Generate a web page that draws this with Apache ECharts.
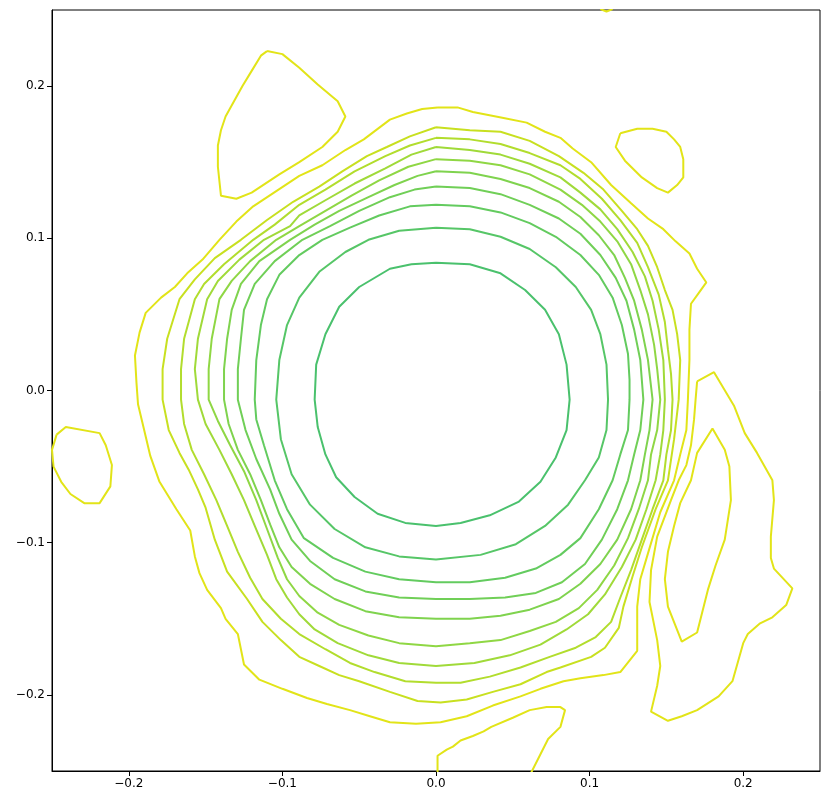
<!DOCTYPE html>
<html>
<head>
<meta charset="utf-8">
<script src="https://cdn.jsdelivr.net/npm/echarts@6/dist/echarts.min.js"></script>
<style>
  html, body { margin: 0; padding: 0; background: #fff; }
  #chart { width: 830px; height: 805px; }
</style>
</head>
<body>
<div id="chart"></div>
<script>
// tick values on both axes
const tickValues = [-0.2, -0.1, 0, 0.1, 0.2]

// contour levels, innermost (c1) to outermost (c10), [x, y] points
const c1 = [[0, 0.084], [0.022, 0.083], [0.042, 0.077], [0.058, 0.066], [0.071, 0.053], [0.080, 0.037], [0.085, 0.017], [0.087, -0.006], [0.085, -0.026], [0.078, -0.044], [0.068, -0.060], [0.054, -0.073], [0.035, -0.082], [0.016, -0.087], [0, -0.089], [-0.020, -0.087], [-0.038, -0.081], [-0.053, -0.070], [-0.065, -0.057], [-0.072, -0.042], [-0.077, -0.024], [-0.079, -0.006], [-0.078, 0.017], [-0.072, 0.037], [-0.063, 0.055], [-0.050, 0.068], [-0.030, 0.080], [-0.016, 0.083]]
const c2 = [[0, 0.107], [0.022, 0.106], [0.042, 0.101], [0.061, 0.093], [0.078, 0.081], [0.091, 0.068], [0.101, 0.053], [0.107, 0.037], [0.111, 0.017], [0.112, -0.006], [0.111, -0.026], [0.106, -0.044], [0.097, -0.059], [0.086, -0.075], [0.071, -0.089], [0.052, -0.101], [0.029, -0.108], [0, -0.111], [-0.024, -0.109], [-0.046, -0.103], [-0.066, -0.091], [-0.082, -0.075], [-0.094, -0.055], [-0.101, -0.032], [-0.104, -0.006], [-0.102, 0.020], [-0.097, 0.043], [-0.089, 0.061], [-0.076, 0.078], [-0.059, 0.091], [-0.044, 0.099], [-0.024, 0.105]]
const c3 = [[0, 0.122], [0.022, 0.121], [0.042, 0.117], [0.061, 0.110], [0.078, 0.101], [0.094, 0.089], [0.106, 0.076], [0.115, 0.061], [0.121, 0.043], [0.125, 0.024], [0.126, 0.007], [0.126, -0.006], [0.125, -0.026], [0.120, -0.042], [0.115, -0.059], [0.106, -0.078], [0.094, -0.097], [0.081, -0.108], [0.065, -0.117], [0.045, -0.123], [0.022, -0.126], [0, -0.126], [-0.024, -0.124], [-0.046, -0.119], [-0.067, -0.110], [-0.086, -0.097], [-0.097, -0.078], [-0.105, -0.059], [-0.112, -0.036], [-0.117, -0.019], [-0.118, -0.006], [-0.117, 0.020], [-0.114, 0.043], [-0.110, 0.060], [-0.102, 0.076], [-0.089, 0.089], [-0.074, 0.099], [-0.056, 0.107], [-0.037, 0.115], [-0.017, 0.121]]
const c4 = [[0, 0.134], [0.022, 0.133], [0.042, 0.129], [0.061, 0.122], [0.080, 0.113], [0.094, 0.103], [0.107, 0.089], [0.117, 0.074], [0.124, 0.059], [0.129, 0.040], [0.133, 0.020], [0.135, -0.006], [0.133, -0.026], [0.129, -0.042], [0.125, -0.059], [0.118, -0.078], [0.108, -0.098], [0.097, -0.114], [0.082, -0.126], [0.065, -0.133], [0.045, -0.136], [0.022, -0.137], [0, -0.137], [-0.024, -0.136], [-0.046, -0.132], [-0.066, -0.124], [-0.082, -0.112], [-0.094, -0.098], [-0.102, -0.081], [-0.108, -0.065], [-0.117, -0.045], [-0.124, -0.026], [-0.129, -0.006], [-0.129, 0.014], [-0.127, 0.034], [-0.125, 0.053], [-0.118, 0.070], [-0.105, 0.085], [-0.087, 0.099], [-0.069, 0.108], [-0.050, 0.118], [-0.030, 0.127], [-0.014, 0.132]]
const c5 = [[0, 0.144], [0.022, 0.143], [0.042, 0.139], [0.061, 0.133], [0.080, 0.124], [0.094, 0.114], [0.106, 0.102], [0.116, 0.089], [0.123, 0.074], [0.129, 0.059], [0.134, 0.040], [0.138, 0.020], [0.141, -0.006], [0.139, -0.026], [0.136, -0.042], [0.133, -0.059], [0.127, -0.078], [0.118, -0.098], [0.107, -0.114], [0.094, -0.127], [0.080, -0.137], [0.061, -0.144], [0.042, -0.148], [0.022, -0.150], [0, -0.150], [-0.024, -0.149], [-0.046, -0.145], [-0.066, -0.137], [-0.082, -0.127], [-0.094, -0.116], [-0.102, -0.103], [-0.108, -0.088], [-0.114, -0.072], [-0.121, -0.055], [-0.129, -0.039], [-0.135, -0.022], [-0.138, -0.006], [-0.138, 0.014], [-0.136, 0.034], [-0.133, 0.053], [-0.127, 0.070], [-0.115, 0.085], [-0.095, 0.099], [-0.079, 0.109], [-0.063, 0.118], [-0.044, 0.127], [-0.027, 0.135], [-0.012, 0.141]]
const c6 = [[0, 0.152], [0.022, 0.151], [0.042, 0.148], [0.061, 0.142], [0.081, 0.132], [0.095, 0.122], [0.107, 0.111], [0.118, 0.098], [0.127, 0.083], [0.133, 0.066], [0.138, 0.050], [0.142, 0.030], [0.144, 0.014], [0.146, -0.006], [0.144, -0.026], [0.140, -0.042], [0.138, -0.059], [0.132, -0.078], [0.125, -0.097], [0.116, -0.115], [0.105, -0.131], [0.093, -0.143], [0.078, -0.152], [0.061, -0.158], [0.042, -0.164], [0.022, -0.166], [0, -0.168], [-0.024, -0.166], [-0.044, -0.161], [-0.063, -0.154], [-0.077, -0.146], [-0.089, -0.135], [-0.097, -0.124], [-0.103, -0.110], [-0.110, -0.091], [-0.117, -0.072], [-0.125, -0.053], [-0.134, -0.036], [-0.142, -0.020], [-0.148, -0.006], [-0.148, 0.014], [-0.146, 0.034], [-0.141, 0.060], [-0.133, 0.072], [-0.121, 0.085], [-0.104, 0.099], [-0.089, 0.108], [-0.072, 0.118], [-0.055, 0.128], [-0.037, 0.138], [-0.018, 0.147]]
const c7 = [[0, 0.160], [0.022, 0.158], [0.042, 0.155], [0.061, 0.149], [0.081, 0.140], [0.094, 0.130], [0.107, 0.119], [0.118, 0.106], [0.128, 0.091], [0.136, 0.075], [0.141, 0.059], [0.145, 0.040], [0.148, 0.020], [0.149, -0.006], [0.148, -0.026], [0.146, -0.042], [0.143, -0.059], [0.137, -0.078], [0.130, -0.098], [0.121, -0.116], [0.110, -0.134], [0.099, -0.147], [0.085, -0.157], [0.068, -0.167], [0.048, -0.174], [0.025, -0.179], [0, -0.181], [-0.024, -0.179], [-0.044, -0.174], [-0.064, -0.166], [-0.079, -0.157], [-0.089, -0.147], [-0.097, -0.136], [-0.104, -0.124], [-0.110, -0.108], [-0.118, -0.089], [-0.125, -0.072], [-0.133, -0.055], [-0.141, -0.039], [-0.150, -0.022], [-0.155, -0.006], [-0.157, 0.014], [-0.155, 0.034], [-0.149, 0.060], [-0.142, 0.072], [-0.128, 0.086], [-0.112, 0.099], [-0.095, 0.108], [-0.089, 0.115], [-0.072, 0.125], [-0.053, 0.136], [-0.033, 0.146], [-0.016, 0.155]]
const c8 = [[0, 0.166], [0.022, 0.165], [0.042, 0.162], [0.061, 0.156], [0.081, 0.148], [0.094, 0.139], [0.108, 0.126], [0.120, 0.112], [0.131, 0.097], [0.138, 0.081], [0.145, 0.063], [0.149, 0.045], [0.151, 0.027], [0.153, 0.011], [0.154, -0.006], [0.153, -0.026], [0.150, -0.042], [0.148, -0.059], [0.141, -0.078], [0.134, -0.098], [0.127, -0.118], [0.120, -0.136], [0.114, -0.152], [0.104, -0.162], [0.091, -0.169], [0.074, -0.175], [0.055, -0.182], [0.035, -0.188], [0.016, -0.192], [0, -0.192], [-0.020, -0.191], [-0.040, -0.185], [-0.056, -0.179], [-0.072, -0.170], [-0.089, -0.160], [-0.101, -0.150], [-0.113, -0.137], [-0.121, -0.123], [-0.129, -0.106], [-0.136, -0.089], [-0.143, -0.072], [-0.151, -0.055], [-0.159, -0.039], [-0.164, -0.022], [-0.166, -0.006], [-0.166, 0.014], [-0.164, 0.034], [-0.157, 0.060], [-0.151, 0.070], [-0.138, 0.083], [-0.119, 0.099], [-0.105, 0.109], [-0.089, 0.122], [-0.072, 0.132], [-0.053, 0.144], [-0.033, 0.154], [-0.017, 0.161]]
const c9 = [[0, 0.173], [0.022, 0.171], [0.042, 0.170], [0.061, 0.164], [0.080, 0.154], [0.096, 0.143], [0.109, 0.132], [0.121, 0.118], [0.131, 0.106], [0.138, 0.095], [0.144, 0.081], [0.149, 0.066], [0.154, 0.053], [0.157, 0.037], [0.159, 0.020], [0.158, -0.006], [0.155, -0.032], [0.151, -0.059], [0.143, -0.078], [0.134, -0.103], [0.128, -0.122], [0.122, -0.142], [0.119, -0.156], [0.110, -0.169], [0.101, -0.175], [0.081, -0.182], [0.072, -0.185], [0.055, -0.193], [0.037, -0.198], [0.020, -0.203], [0.003, -0.205], [-0.012, -0.204], [-0.030, -0.198], [-0.050, -0.191], [-0.063, -0.187], [-0.076, -0.181], [-0.089, -0.175], [-0.101, -0.164], [-0.113, -0.152], [-0.123, -0.137], [-0.136, -0.119], [-0.144, -0.098], [-0.150, -0.077], [-0.155, -0.065], [-0.161, -0.052], [-0.167, -0.041], [-0.174, -0.026], [-0.178, -0.006], [-0.178, 0.014], [-0.175, 0.034], [-0.167, 0.060], [-0.157, 0.073], [-0.144, 0.087], [-0.127, 0.099], [-0.110, 0.112], [-0.093, 0.124], [-0.076, 0.134], [-0.061, 0.144], [-0.045, 0.154], [-0.032, 0.160], [-0.017, 0.167]]
const c10 = [[0.001, 0.186], [0.014, 0.186], [0.024, 0.183], [0.034, 0.181], [0.044, 0.179], [0.059, 0.176], [0.071, 0.170], [0.081, 0.166], [0.089, 0.159], [0.101, 0.150], [0.114, 0.135], [0.127, 0.123], [0.138, 0.113], [0.148, 0.106], [0.156, 0.098], [0.165, 0.090], [0.170, 0.080], [0.176, 0.071], [0.171, 0.064], [0.166, 0.057], [0.165, 0.040], [0.165, 0.020], [0.164, -0.006], [0.163, -0.026], [0.159, -0.042], [0.155, -0.059], [0.146, -0.080], [0.138, -0.107], [0.133, -0.124], [0.131, -0.142], [0.131, -0.171], [0.120, -0.185], [0.109, -0.187], [0.094, -0.189], [0.083, -0.191], [0.068, -0.196], [0.055, -0.201], [0.037, -0.207], [0.020, -0.214], [0.003, -0.218], [-0.013, -0.219], [-0.030, -0.218], [-0.043, -0.214], [-0.056, -0.210], [-0.071, -0.206], [-0.084, -0.202], [-0.100, -0.196], [-0.115, -0.190], [-0.125, -0.180], [-0.129, -0.160], [-0.137, -0.150], [-0.140, -0.143], [-0.149, -0.131], [-0.154, -0.120], [-0.157, -0.109], [-0.160, -0.092], [-0.169, -0.078], [-0.180, -0.060], [-0.186, -0.043], [-0.190, -0.026], [-0.194, -0.009], [-0.195, 0.005], [-0.196, 0.023], [-0.193, 0.038], [-0.189, 0.051], [-0.179, 0.061], [-0.170, 0.068], [-0.162, 0.077], [-0.152, 0.086], [-0.141, 0.099], [-0.130, 0.111], [-0.119, 0.121], [-0.104, 0.131], [-0.089, 0.141], [-0.074, 0.148], [-0.059, 0.158], [-0.047, 0.165], [-0.030, 0.178], [-0.019, 0.182], [-0.009, 0.185]]

// outermost level: separate pieces
const islandTopLeft = [[-0.110, 0.223], [-0.100, 0.221], [-0.089, 0.212], [-0.077, 0.201], [-0.064, 0.190], [-0.059, 0.180], [-0.064, 0.170], [-0.074, 0.160], [-0.089, 0.150], [-0.102, 0.142], [-0.120, 0.130], [-0.130, 0.126], [-0.140, 0.128], [-0.142, 0.147], [-0.142, 0.161], [-0.140, 0.171], [-0.137, 0.180], [-0.126, 0.200], [-0.120, 0.210], [-0.114, 0.220]]
const islandTopRight = [[0.120, 0.169], [0.131, 0.172], [0.141, 0.172], [0.150, 0.170], [0.155, 0.165], [0.159, 0.160], [0.161, 0.152], [0.161, 0.140], [0.157, 0.135], [0.151, 0.130], [0.144, 0.133], [0.134, 0.140], [0.123, 0.151], [0.117, 0.160]]
const islandLeft = [[-0.247, -0.029], [-0.241, -0.024], [-0.219, -0.028], [-0.215, -0.036], [-0.211, -0.049], [-0.212, -0.063], [-0.219, -0.074], [-0.229, -0.074], [-0.238, -0.068], [-0.244, -0.060], [-0.249, -0.050], [-0.250, -0.039]]
const regionRight = [[0.170, 0.006], [0.181, 0.012], [0.194, -0.010], [0.201, -0.028], [0.209, -0.041], [0.219, -0.059], [0.220, -0.072], [0.218, -0.096], [0.218, -0.110], [0.220, -0.117], [0.232, -0.130], [0.228, -0.141], [0.219, -0.149], [0.211, -0.153], [0.203, -0.160], [0.200, -0.166], [0.193, -0.191], [0.184, -0.201], [0.170, -0.210], [0.160, -0.214], [0.151, -0.217], [0.140, -0.211], [0.144, -0.194], [0.146, -0.181], [0.144, -0.164], [0.139, -0.139], [0.140, -0.118], [0.144, -0.096], [0.153, -0.072], [0.158, -0.059], [0.163, -0.049], [0.166, -0.036], [0.168, -0.019], [0.169, -0.006]]
const islandRight = [[0.180, -0.025], [0.188, -0.039], [0.191, -0.050], [0.192, -0.072], [0.188, -0.098], [0.182, -0.115], [0.177, -0.131], [0.170, -0.159], [0.160, -0.165], [0.151, -0.142], [0.149, -0.124], [0.151, -0.106], [0.155, -0.089], [0.159, -0.074], [0.166, -0.059], [0.170, -0.041]]
const pieceBottom = [[0.001, -0.251], [0.001, -0.240], [0.007, -0.236], [0.011, -0.234], [0.016, -0.230], [0.024, -0.227], [0.031, -0.224], [0.036, -0.221], [0.050, -0.215], [0.061, -0.210], [0.072, -0.208], [0.081, -0.208], [0.084, -0.210], [0.081, -0.221], [0.073, -0.229], [0.068, -0.239], [0.062, -0.251]]
const pieceTop = [[0.107, 0.2506], [0.111, 0.2490], [0.115, 0.2506]]

const levelColors = ['#4ac16d', '#56c667', '#63cb5f', '#70cf57', '#7fd34e', '#8fd744', '#a0da39', '#b2dd2d', '#c8e020', '#e2e418']

function closed(pts) {
  return pts.concat([pts[0]])
}

const series = []
const levels = [c1, c2, c3, c4, c5, c6, c7, c8, c9, c10]
levels.forEach((pts, i) => {
  series.push({ type: 'line', data: closed(pts), color: levelColors[i] })
})
const outerColor = levelColors[9]
;[islandTopLeft, islandTopRight, islandLeft, regionRight, islandRight].forEach(pts => {
  series.push({ type: 'line', data: closed(pts), color: outerColor })
})
;[pieceBottom, pieceTop].forEach(pts => {
  series.push({ type: 'line', data: pts, color: outerColor })
})
series.forEach(s => {
  s.showSymbol = false
  s.symbol = 'none'
  s.smooth = false
  s.clip = true
  s.silent = true
  s.lineStyle = { width: 2, color: s.color }
})

function tickFmt(v) {
  return (v < 0 ? '\u2212' : '') + Math.abs(v).toFixed(1)
}

const axisCommon = {
  type: 'value',
  min: -0.25,
  max: 0.25,
  splitLine: { show: false },
  axisLine: { show: true, onZero: false, lineStyle: { color: '#000', width: 1 } },
  axisTick: { show: true, inside: false, length: 5, customValues: tickValues, lineStyle: { color: '#000', width: 1 } },
  axisLabel: {
    customValues: tickValues,
    formatter: tickFmt,
    color: '#000',
    fontSize: 12,
    fontFamily: 'DejaVu Sans',
    margin: 7
  }
}

const chart = echarts.init(document.getElementById('chart'), null, { renderer: 'canvas' })
chart.setOption({
  animation: false,
  backgroundColor: '#fff',
  grid: {
    left: 52,
    top: 10,
    width: 768,
    height: 761,
    show: true,
    borderColor: '#000',
    borderWidth: 1,
    backgroundColor: 'transparent'
  },
  xAxis: Object.assign({}, axisCommon),
  yAxis: Object.assign({}, axisCommon),
  series: series
})
</script>
</body>
</html>
